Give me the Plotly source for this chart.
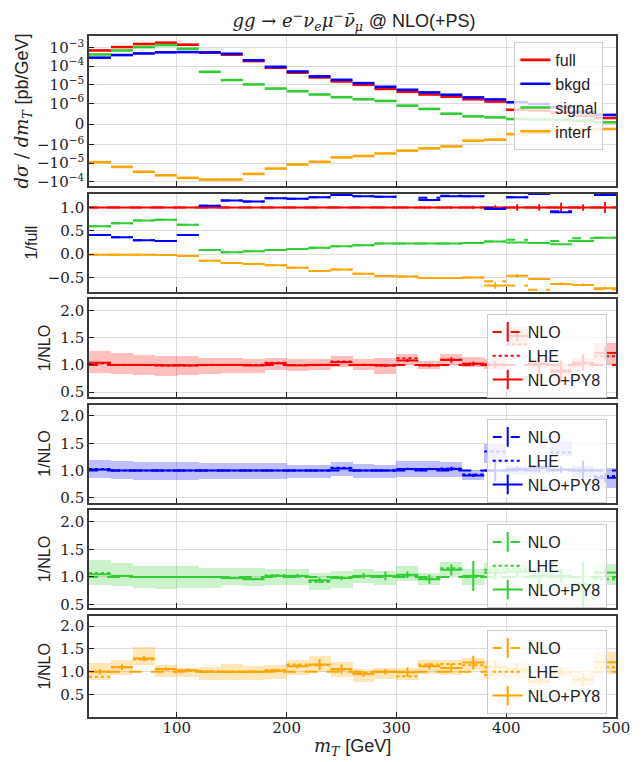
import plotly.graph_objects as go
import numpy as np

# ---------------- data ----------------
edges = list(range(20, 520, 20))          # 24 bins of 20 GeV
centers = [e + 10 for e in edges[:-1]]

# top panel: dsigma/dmT [pb/GeV] (NLO+PY8)
full_xs = [7.1e-4, 1.08e-3, 1.57e-3, 1.86e-3, 1.45e-3, 5.4e-4, 4.2e-4, 1.9e-4, 8.3e-5, 4.5e-5,
           2.5e-5, 1.52e-5, 1.0e-5, 6.0e-6, 4.2e-6, 3.0e-6, 2.3e-6, 1.66e-6, 1.25e-6, 0.69e-6,
           0.65e-6, 0.56e-6, 0.40e-6, 0.29e-6]
bkgd_xs = [2.9e-4, 4.0e-4, 4.9e-4, 5.6e-4, 5.8e-4, 5.6e-4, 4.7e-4, 2.1e-4, 9.3e-5, 5.2e-5,
           2.85e-5, 1.86e-5, 1.23e-5, 7.8e-6, 5.4e-6, 3.9e-6, 2.9e-6, 2.1e-6, 1.63e-6, 1.15e-6,
           0.97e-6, 0.81e-6, 0.58e-6, 0.44e-6]
signal_xs = [4.3e-4, 7.1e-4, 1.07e-3, 1.38e-3, 8.8e-4, 5.0e-5, 1.8e-5, 1.05e-5, 6.3e-6, 4.5e-6,
             3.0e-6, 2.15e-6, 1.66e-6, 1.35e-6, 0.89e-6, 0.73e-6, 0.50e-6, 0.37e-6, 0.32e-6, 0.24e-6,
             0.22e-6, 0.20e-6, 0.15e-6, 0.08e-6]
interf_xs = [-8.8e-6, -1.58e-5, -2.9e-5, -4.5e-5, -6.2e-5, -7.6e-5, -7.6e-5, -3.8e-5, -1.95e-5, -1.18e-5,
             -8.4e-6, -4.9e-6, -4.1e-6, -3.0e-6, -2.1e-6, -1.6e-6, -1.25e-6, -0.81e-6, -0.76e-6, -0.49e-6,
             -0.44e-6, -0.33e-6, -0.28e-6, -0.24e-6]

# second panel: ratio to full (NLO+PY8 solid, NLO dashed)
full_r = [1.0] * 24
full_r_err = [0.005] * 10 + [0.01, 0.015, 0.015, 0.02, 0.025, 0.025, 0.03, 0.035, 0.05, 0.07,
                             0.07, 0.1, 0.07, 0.12]
bkgd_r = [0.41, 0.36, 0.30, 0.28, 0.41, 1.04, 1.15, 1.13, 1.20, 1.19, 1.22, 1.27, 1.24, 1.23,
          1.35, 1.16, 1.24, 1.24, 0.97, 1.22, 1.29, 0.90, 1.35, 1.27]
bkgd_r_nlo = [0.41, 0.36, 0.30, 0.28, 0.41, 1.04, 1.15, 1.13, 1.20, 1.19, 1.22, 1.27, 1.24, 1.23,
              1.35, 1.21, 1.25, 1.24, 0.99, 1.22, 1.29, 0.92, 1.35, 1.27]
signal_r = [0.60, 0.66, 0.72, 0.74, 0.63, 0.09, 0.04, 0.06, 0.09, 0.11, 0.14, 0.17, 0.19, 0.23,
            0.23, 0.23, 0.23, 0.24, 0.27, 0.25, 0.24, 0.21, 0.28, 0.35]
signal_r_nlo = [0.60, 0.66, 0.72, 0.74, 0.63, 0.09, 0.04, 0.06, 0.09, 0.11, 0.14, 0.17, 0.19, 0.23,
                0.23, 0.23, 0.23, 0.24, 0.27, 0.31, 0.24, 0.28, 0.34, 0.35]
interf_r = [-0.01, -0.01, -0.01, -0.02, -0.04, -0.14, -0.19, -0.21, -0.24, -0.29, -0.36, -0.33,
            -0.42, -0.47, -0.48, -0.51, -0.51, -0.50, -0.67, -0.46, -0.53, -0.64, -0.66, -0.73]
interf_r_nlo = [-0.01, -0.01, -0.01, -0.02, -0.04, -0.14, -0.19, -0.21, -0.24, -0.29, -0.36, -0.33,
                -0.42, -0.47, -0.48, -0.51, -0.51, -0.50, -0.58, -0.67, -0.76, -0.64, -0.66, -0.75]
interf_r_err = [0.005] * 10 + [0.01] * 8 + [0.07, 0.04, 0.02, 0.03, 0.03, 0.03]

# lower panels: ratio to NLO
full_py8 = [1.04, 1.0, 1.0, 0.99, 0.99, 1.0, 1.0, 0.99, 1.03, 0.99, 1.0, 1.05, 1.0, 0.99,
            1.08, 0.99, 1.09, 1.02, 1.0, 1.53, 1.02, 0.88, 1.04, 1.22]
full_lhe = [1.03, 1.0, 1.0, 0.99, 0.99, 1.0, 1.0, 1.0, 1.04, 1.0, 1.0, 1.06, 1.0, 0.99,
            1.12, 1.0, 1.1, 1.02, 1.01, 1.38, 1.01, 0.9, 1.03, 1.16]
full_err = [0.01] * 10 + [0.02, 0.02, 0.02, 0.03, 0.03, 0.03, 0.05, 0.04, 0.06, 0.1,
                          0.21, 0.2, 0.15, 0.12]
full_lo = [0.85, 0.83, 0.82, 0.80, 0.82, 0.83, 0.86, 0.86, 0.91, 0.88, 0.91, 0.97, 0.91, 0.83,
           1.0, 0.93, 1.0, 0.96, 0.92, 1.35, 0.92, 0.67, 0.95, 1.0]
full_hi = [1.25, 1.22, 1.19, 1.17, 1.16, 1.13, 1.12, 1.10, 1.13, 1.10, 1.10, 1.16, 1.10, 1.13,
           1.20, 1.08, 1.20, 1.14, 1.10, 1.70, 1.12, 1.04, 1.12, 1.41]

bkgd_py8 = [1.02, 1.0, 1.0, 1.0, 1.0, 1.0, 1.0, 1.0, 1.0, 1.0, 1.0, 1.04, 1.0, 1.0,
            1.03, 1.03, 1.03, 0.91, 1.0, 1.02, 1.05, 1.02, 1.0, 0.87]
bkgd_lhe = [1.03, 1.0, 1.0, 1.0, 1.0, 1.0, 1.0, 1.0, 1.0, 1.0, 1.0, 1.05, 1.0, 1.0,
            1.03, 1.03, 1.04, 0.93, 1.35, 1.03, 1.06, 1.33, 1.02, 0.90]
bkgd_err = [0.01] * 11 + [0.01, 0.01, 0.02, 0.02, 0.02, 0.04, 0.03, 0.2, 0.05, 0.08, 0.06, 0.18, 0.08]
bkgd_lo = [0.87, 0.85, 0.84, 0.84, 0.84, 0.85, 0.86, 0.86, 0.86, 0.87, 0.87, 0.91, 0.88, 0.88,
           0.90, 0.90, 0.90, 0.83, 1.15, 0.92, 0.95, 1.27, 0.90, 0.69]
bkgd_hi = [1.21, 1.18, 1.16, 1.16, 1.16, 1.15, 1.14, 1.14, 1.14, 1.12, 1.12, 1.16, 1.13, 1.12,
           1.18, 1.19, 1.17, 1.02, 1.50, 1.10, 1.12, 1.55, 1.10, 1.06]

signal_py8 = [1.05, 1.02, 1.0, 1.0, 1.0, 1.0, 0.98, 0.96, 1.02, 1.02, 0.94, 0.98, 1.02, 1.02,
              1.04, 0.96, 1.13, 1.02, 1.08, 1.10, 1.02, 1.02, 0.86, 1.08]
signal_lhe = [1.07, 1.02, 1.0, 1.0, 1.0, 1.0, 0.98, 0.97, 1.03, 1.01, 0.91, 0.98, 1.02, 1.02,
              1.03, 0.97, 1.16, 1.0, 1.13, 1.15, 1.0, 1.0, 0.88, 0.96]
signal_err = [0.01, 0.01, 0.01, 0.01, 0.01, 0.015, 0.02, 0.02, 0.03, 0.04, 0.05, 0.04, 0.05, 0.08,
              0.06, 0.08, 0.1, 0.27, 0.12, 0.1, 0.25, 0.12, 0.42, 0.1]
signal_lo = [0.86, 0.83, 0.80, 0.79, 0.80, 0.81, 0.86, 0.83, 0.86, 0.86, 0.77, 0.80, 0.90, 0.86,
             0.93, 0.86, 1.02, 0.86, 0.96, 0.98, 0.86, 0.86, 0.56, 0.86]
signal_hi = [1.30, 1.25, 1.20, 1.20, 1.20, 1.17, 1.16, 1.16, 1.14, 1.14, 1.08, 1.11, 1.14, 1.11,
             1.20, 1.08, 1.27, 1.14, 1.26, 1.23, 1.17, 1.14, 1.02, 1.23]

interf_py8 = [1.0, 1.10, 1.29, 1.06, 1.03, 1.0, 1.0, 1.0, 1.02, 1.12, 1.16, 1.06, 0.95, 1.0,
              0.99, 1.12, 1.08, 1.20, 1.10, 1.05, 0.78, 1.0, 0.82, 1.21]
interf_lhe = [0.89, 1.10, 1.27, 1.05, 1.02, 1.01, 1.0, 1.0, 1.04, 1.16, 1.14, 1.05, 0.98, 1.0,
              0.90, 1.16, 1.17, 1.14, 0.93, 1.06, 0.80, 0.98, 0.85, 1.10]
interf_err = [0.06, 0.06, 0.06, 0.04, 0.04, 0.03, 0.03, 0.04, 0.04, 0.05, 0.12, 0.1, 0.06, 0.06,
              0.1, 0.07, 0.1, 0.15, 0.15, 0.15, 0.08, 0.08, 0.15, 0.15]
interf_lo = [0.82, 0.93, 1.16, 0.89, 0.90, 0.82, 0.82, 0.83, 0.86, 0.93, 1.0, 0.89, 0.78, 0.86,
             0.82, 0.97, 0.93, 1.05, 0.86, 0.86, 0.71, 0.90, 0.71, 0.97]
interf_hi = [1.20, 1.27, 1.56, 1.16, 1.10, 1.12, 1.17, 1.14, 1.16, 1.27, 1.35, 1.23, 1.06, 1.10,
             1.10, 1.26, 1.27, 1.31, 1.27, 1.20, 0.93, 1.12, 0.97, 1.44]

top_ticks = [1e-3, 1e-4, 1e-5, 1e-6, 0, -1e-6, -1e-5, -1e-4]
top_ticktext = ["10<sup>−3</sup>", "10<sup>−4</sup>", "10<sup>−5</sup>", "10<sup>−6</sup>", "0",
                "−10<sup>−6</sup>", "−10<sup>−5</sup>", "−10<sup>−4</sup>"]
x_ticks = [100, 200, 300, 400, 500]

# ---------------- helpers ----------------
LINTHRESH = 1e-6
LINSCALE = 1.0 / (1.0 - 0.1)


def symlog(v):
    v = np.asarray(v, dtype=float)
    a = np.abs(v)
    out = np.where(a <= LINTHRESH, v / LINTHRESH * LINSCALE,
                   np.sign(v) * (LINSCALE + np.log10(np.maximum(a, 1e-30) / LINTHRESH)))
    return out.tolist()


def segs(vals):
    xs, ys = [], []
    for i, v in enumerate(vals):
        xs += [edges[i], edges[i + 1], None]
        ys += [v, v, None]
    return xs, ys


COL = {"full": "#ff0000", "bkgd": "#0000ff", "signal": "#32cd32", "interf": "#ffa500"}
FILL = {"full": "rgba(255,0,0,0.25)", "bkgd": "rgba(0,0,255,0.25)",
        "signal": "rgba(50,205,50,0.25)", "interf": "rgba(255,165,0,0.27)"}

SERIF = "DejaVu Serif"
SANS = "Liberation Sans"

fig = go.Figure()

# ---- top panel ----
for name, vals in [("full", full_xs), ("bkgd", bkgd_xs), ("signal", signal_xs), ("interf", interf_xs)]:
    xs, ys = segs(symlog(vals))
    fig.add_trace(go.Scatter(x=xs, y=ys, mode="lines", name=name, legend="legend",
                             line=dict(color=COL[name], width=2.6), xaxis="x", yaxis="y"))

# ---- ratio-to-full panel ----
panel2 = [("full", full_r, full_r, full_r_err), ("bkgd", bkgd_r, bkgd_r_nlo, None),
          ("signal", signal_r, signal_r_nlo, None), ("interf", interf_r, interf_r_nlo, interf_r_err)]
for name, solid, dashed, err in panel2:
    xs, ys = segs(dashed)
    fig.add_trace(go.Scatter(x=xs, y=ys, mode="lines", showlegend=False,
                             line=dict(color=COL[name], width=2, dash="dash"), xaxis="x2", yaxis="y2"))
    xs, ys = segs(solid)
    fig.add_trace(go.Scatter(x=xs, y=ys, mode="lines", showlegend=False,
                             line=dict(color=COL[name], width=2), xaxis="x2", yaxis="y2"))
    if err is not None:
        fig.add_trace(go.Scatter(x=centers, y=solid, mode="markers", showlegend=False,
                                 marker=dict(size=1, opacity=0),
                                 error_y=dict(type="data", array=err, width=0, thickness=1.8,
                                              color=COL[name]),
                                 xaxis="x2", yaxis="y2"))

# ---- ratio-to-NLO panels ----
lower = [("full", full_py8, full_lhe, full_err, full_lo, full_hi),
         ("bkgd", bkgd_py8, bkgd_lhe, bkgd_err, bkgd_lo, bkgd_hi),
         ("signal", signal_py8, signal_lhe, signal_err, signal_lo, signal_hi),
         ("interf", interf_py8, interf_lhe, interf_err, interf_lo, interf_hi)]
for k, (name, py8, lhe, err, lo, hi) in enumerate(lower):
    ax = str(k + 3)
    xa, ya, lg = "x" + ax, "y" + ax, "legend" + str(k + 2)
    c = COL[name]
    fig.add_trace(go.Bar(x=centers, y=[h - l for h, l in zip(hi, lo)], base=lo, width=20,
                         marker=dict(color=FILL[name], line=dict(width=0)), showlegend=False,
                         xaxis=xa, yaxis=ya))
    nlo = [1.0] * len(py8)
    xs, ys = segs(nlo)
    fig.add_trace(go.Scatter(x=xs, y=ys, mode="lines", showlegend=False,
                             line=dict(color=c, width=2, dash="dash"), xaxis=xa, yaxis=ya))
    xs, ys = segs(lhe)
    fig.add_trace(go.Scatter(x=xs, y=ys, mode="lines", showlegend=False,
                             line=dict(color=c, width=2, dash="dot"), xaxis=xa, yaxis=ya))
    xs, ys = segs(py8)
    fig.add_trace(go.Scatter(x=xs, y=ys, mode="lines", showlegend=False,
                             line=dict(color=c, width=2), xaxis=xa, yaxis=ya))
    fig.add_trace(go.Scatter(x=centers, y=py8, mode="markers", showlegend=False,
                             marker=dict(size=1, opacity=0),
                             error_y=dict(type="data", array=err, width=0, thickness=2, color=c),
                             xaxis=xa, yaxis=ya))
    # legend entries
    fig.add_trace(go.Scatter(x=[None], y=[None], mode="lines+markers", name="NLO", legend=lg,
                             line=dict(color=c, width=2, dash="dash"),
                             marker=dict(symbol="line-ns-open", size=14, line=dict(color=c, width=2)),
                             xaxis=xa, yaxis=ya))
    fig.add_trace(go.Scatter(x=[None], y=[None], mode="lines", name="LHE", legend=lg,
                             line=dict(color=c, width=2, dash="dot"), xaxis=xa, yaxis=ya))
    fig.add_trace(go.Scatter(x=[None], y=[None], mode="lines+markers", name="NLO+PY8", legend=lg,
                             line=dict(color=c, width=2),
                             marker=dict(symbol="line-ns-open", size=14, line=dict(color=c, width=2)),
                             xaxis=xa, yaxis=ya))

# ---------------- layout ----------------
# The page body has an 8px margin; the figure is sized so that, with that
# offset, the plot area lands where it is in the reference picture.
OFF = 8
W, H = 642 - OFF, 762 - OFF
PLOT_L, PLOT_R, PLOT_T, PLOT_B = 87, 621, 36, 717      # page pixel coords
ML, MR, MT = PLOT_L - OFF, 642 - PLOT_R, PLOT_T - OFF
MB = H - (PLOT_B - OFF)
PH = PLOT_B - PLOT_T
PW = PLOT_R - PLOT_L


def px2py(ypx):
    return (PLOT_B - ypx) / PH


def px2px(xpx):
    return (xpx - PLOT_L) / PW


def dom(top_px, bot_px):
    return [px2py(bot_px), px2py(top_px)]


domains = [dom(36, 186), dom(193.5, 291.5), dom(299, 397), dom(404.5, 502.5),
           dom(510, 608), dom(615.5, 717)]

axis_common = dict(showline=True, mirror=True, linecolor="#3a3a3a", linewidth=1.6,
                   ticks="inside", ticklen=5, tickwidth=1.3, tickcolor="#222",
                   showgrid=True, gridcolor="#dddddd", gridwidth=1, zeroline=False,
                   tickfont=dict(family=SERIF, size=15, color="#222"))

layout = dict(width=W, height=H, margin=dict(l=ML, r=MR, t=MT, b=MB),
              paper_bgcolor="white", plot_bgcolor="white", barmode="overlay", bargap=0,
              showlegend=True)

for i in range(6):
    sfx = "" if i == 0 else str(i + 1)
    xa = dict(axis_common, domain=[0, 1], range=[20, 500], tickvals=x_ticks,
              showticklabels=(i == 5), anchor="y" + sfx)
    if i > 0:
        xa["matches"] = "x"
    layout["xaxis" + sfx] = xa
layout["xaxis6"]["ticklabelstandoff"] = -4

ya1 = dict(axis_common, domain=domains[0], range=[-3.34, 4.74], tickvals=symlog(top_ticks),
           ticktext=top_ticktext, anchor="x",
           title=dict(text="<i>dσ</i> / <i>dm<sub>T</sub></i> <span style='font-family:Liberation Sans'>[pb/GeV]</span>",
                      font=dict(family=SERIF, size=18, color="#222"), standoff=4))
layout["yaxis"] = ya1
layout["yaxis2"] = dict(axis_common, domain=domains[1], range=[-0.8, 1.3], tickvals=[-0.5, 0.0, 0.5, 1.0],
                        tickformat=".1f", anchor="x2",
                        title=dict(text="1/full", font=dict(family=SANS, size=16, color="#222"), standoff=6))
lower_ranges = [[0.41, 2.21], [0.415, 2.21], [0.44, 2.21], [0.01, 2.23]]
for k in range(4):
    sfx = str(k + 3)
    layout["yaxis" + sfx] = dict(axis_common, domain=domains[k + 2], range=lower_ranges[k],
                                 tickvals=[0.5, 1.0, 1.5, 2.0], tickformat=".1f", anchor="x" + sfx,
                                 title=dict(text="1/NLO", font=dict(family=SANS, size=16, color="#222"),
                                            standoff=6))

leg_common = dict(bgcolor="rgba(255,255,255,0.8)", bordercolor="#cccccc", borderwidth=1,
                  font=dict(family=SANS, size=16, color="#222"), xanchor="left", yanchor="top",
                  itemwidth=30, tracegroupgap=0)

layout["legend"] = dict(leg_common, x=px2px(518), y=px2py(42))
for k, top in enumerate([314, 419, 524, 630]):
    layout["legend" + str(k + 2)] = dict(leg_common, x=px2px(490), y=px2py(top))

layout["title"] = dict(
    text="<i>gg</i> → <i>e</i><sup>−</sup><i>ν<sub>e</sub></i><i>μ</i><sup>−</sup><i>ν̄<sub>μ</sub></i>"
         " <span style='font-family:Liberation Sans'>@ NLO(+PS)</span>",
    font=dict(family=SERIF, size=18, color="#222"),
    x=(ML + (W - ML - MR) / 2) / W, xanchor="center", y=1 - (21 - OFF) / H, yanchor="middle")

layout["annotations"] = [dict(
    text="<i>m<sub>T</sub></i> <span style='font-family:Liberation Sans'>[GeV]</span>",
    font=dict(family=SERIF, size=18, color="#222"), showarrow=False,
    xref="paper", yref="paper", x=0.5, y=px2py(747), xanchor="center", yanchor="middle")]

fig.update_layout(**layout)
fig.write_html("out.html")
